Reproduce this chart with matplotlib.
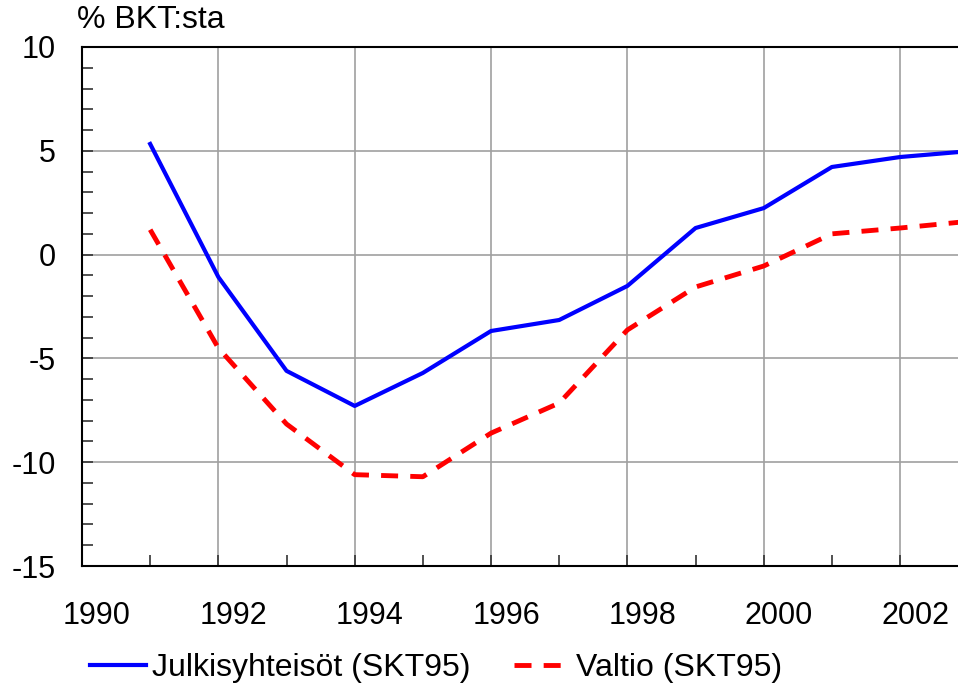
import matplotlib
matplotlib.use("Agg")
import matplotlib.pyplot as plt
import matplotlib.transforms as mtransforms
from matplotlib.ticker import MultipleLocator

plt.rcParams['font.family'] = ['Liberation Sans', 'DejaVu Sans']
plt.rcParams['axes.unicode_minus'] = False

years = [1991, 1992, 1993, 1994, 1995, 1996, 1997, 1998, 1999, 2000, 2001, 2002, 2003]
julkisyhteisot = [5.33, -1.08, -5.6, -7.29, -5.7, -3.68, -3.15, -1.51, 1.28, 2.24, 4.22, 4.70, 4.98]
valtio = [1.2, -4.5, -8.16, -10.6, -10.7, -8.6, -7.15, -3.63, -1.56, -0.55, 1.0, 1.28, 1.6]
xticks = [1990, 1992, 1994, 1996, 1998, 2000, 2002]
yticks = [-15, -10, -5, 0, 5, 10]
labels = ["Julkisyhteisöt (SKT95)", "Valtio (SKT95)"]
ylabel = "% BKT:sta"

fig = plt.figure(figsize=(9.58, 6.91), dpi=100)
ax = fig.add_axes([82/958, 1-566/691, 1-82/958, (566-47)/691])

ax.plot(years, julkisyhteisot, color='#0000ff', lw=3, label=labels[0])
ax.plot(years, valtio, color='#ff0000', lw=3.5, ls=(0, (3.5, 2.5)), label=labels[1])

ax.set_xlim(1990, 2002.85)
ax.set_ylim(-15, 10)
ax.set_xticks(xticks)
ax.set_yticks(yticks)
ax.xaxis.set_minor_locator(MultipleLocator(1))
ax.yaxis.set_minor_locator(MultipleLocator(1))
ax.grid(True, which='major', color='#a0a0a0', lw=1.2)
ax.set_axisbelow(True)
ax.tick_params(axis='both', which='both', direction='in', length=8, width=1.2, color='#333333')
ax.tick_params(axis='both', which='major', labelsize=22)
ax.tick_params(axis='x', which='major', pad=25)
ax.tick_params(axis='y', which='major', pad=19)
ax.spines['right'].set_visible(False)
for s in ['left', 'bottom', 'top']:
    ax.spines[s].set_color('black')
    ax.spines[s].set_linewidth(1.5)

offset = mtransforms.ScaledTranslation(15/100, 0, fig.dpi_scale_trans)
for lbl in ax.get_xticklabels():
    lbl.set_transform(lbl.get_transform() + offset)

fig.text(77/958, 1-20/691, ylabel, fontsize=23, va='center', ha='left')

leg = fig.legend(loc='center', bbox_to_anchor=(0.455, 1-668/691), ncol=2, frameon=False,
                 fontsize=23, handlelength=1.75, columnspacing=1.35, handletextpad=0.2)

fig.savefig("out.png", dpi=100)
